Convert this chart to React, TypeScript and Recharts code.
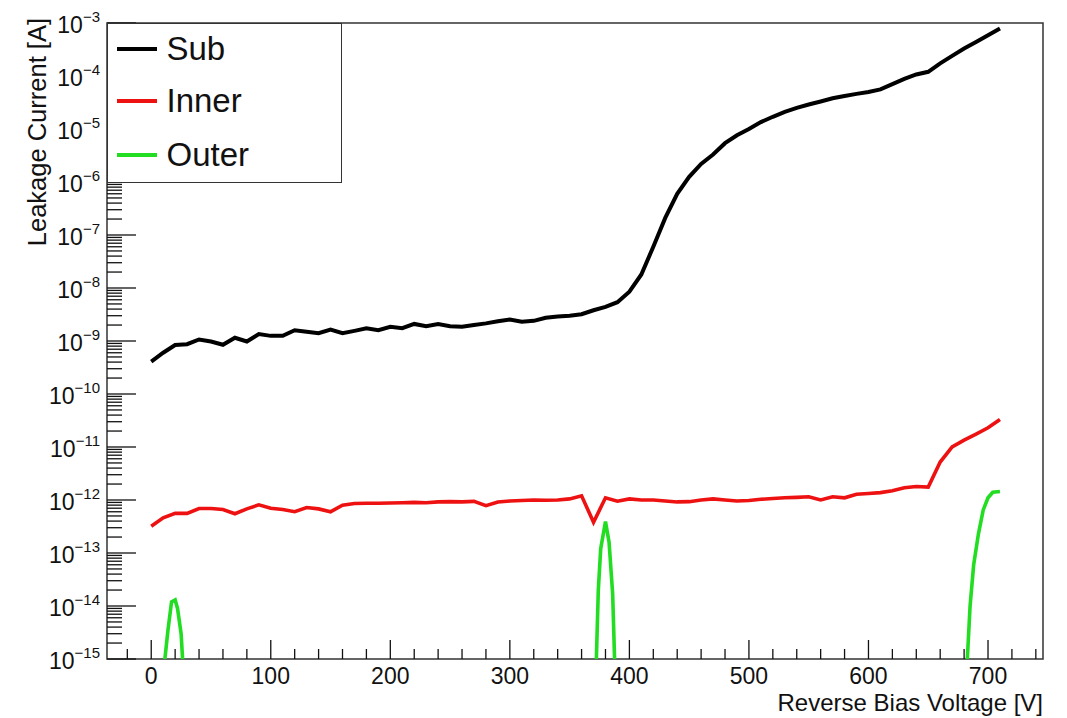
import React from 'react';
import { LineChart, Line, XAxis, YAxis, ReferenceArea, Legend } from 'recharts';

const voltages = [
  0, 10, 20, 30, 40, 50, 60, 70, 80, 90,
  100, 110, 120, 130, 140, 150, 160, 170, 180, 190,
  200, 210, 220, 230, 240, 250, 260, 270, 280, 290,
  300, 310, 320, 330, 340, 350, 360, 370, 380, 390,
  400, 410, 420, 430, 440, 450, 460, 470, 480, 490,
  500, 510, 520, 530, 540, 550, 560, 570, 580, 590,
  600, 610, 620, 630, 640, 650, 660, 670, 680, 690,
  700, 710,
];

const subCurrent = [
  4.1e-10, 6.0e-10, 8.4e-10, 8.7e-10, 1.07e-9, 9.8e-10, 8.5e-10, 1.15e-9, 9.8e-10, 1.35e-9,
  1.25e-9, 1.25e-9, 1.6e-9, 1.5e-9, 1.4e-9, 1.65e-9, 1.4e-9, 1.55e-9, 1.73e-9, 1.6e-9,
  1.85e-9, 1.75e-9, 2.1e-9, 1.9e-9, 2.1e-9, 1.9e-9, 1.85e-9, 2.0e-9, 2.15e-9, 2.35e-9,
  2.55e-9, 2.3e-9, 2.4e-9, 2.75e-9, 2.9e-9, 3.0e-9, 3.2e-9, 3.8e-9, 4.4e-9, 5.4e-9,
  8.5e-9, 1.8e-8, 6.0e-8, 2.1e-7, 6.0e-7, 1.25e-6, 2.2e-6, 3.3e-6, 5.4e-6, 7.6e-6,
  1.0e-5, 1.35e-5, 1.7e-5, 2.1e-5, 2.5e-5, 2.9e-5, 3.3e-5, 3.8e-5, 4.2e-5, 4.6e-5,
  5.0e-5, 5.6e-5, 7.0e-5, 8.8e-5, 1.07e-4, 1.2e-4, 1.73e-4, 2.4e-4, 3.3e-4, 4.4e-4,
  5.9e-4, 7.9e-4,
];

const innerCurrent = [
  3.2e-13, 4.6e-13, 5.6e-13, 5.6e-13, 6.9e-13, 6.9e-13, 6.6e-13, 5.5e-13, 6.8e-13, 8.1e-13,
  7.0e-13, 6.6e-13, 6.0e-13, 7.2e-13, 6.8e-13, 6.0e-13, 8.0e-13, 8.6e-13, 8.7e-13, 8.7e-13,
  8.8e-13, 8.9e-13, 9.0e-13, 8.9e-13, 9.2e-13, 9.3e-13, 9.2e-13, 9.4e-13, 7.8e-13, 9.2e-13,
  9.6e-13, 9.8e-13, 1.0e-12, 9.9e-13, 1.0e-12, 1.05e-12, 1.2e-12, 3.8e-13, 1.1e-12, 9.5e-13,
  1.05e-12, 1.0e-12, 1.0e-12, 9.6e-13, 9.2e-13, 9.3e-13, 1.0e-12, 1.05e-12, 1.0e-12, 9.6e-13,
  9.8e-13, 1.03e-12, 1.07e-12, 1.1e-12, 1.12e-12, 1.15e-12, 1.0e-12, 1.15e-12, 1.1e-12, 1.28e-12,
  1.33e-12, 1.38e-12, 1.5e-12, 1.7e-12, 1.8e-12, 1.75e-12, 5.2e-12, 1.0e-11, 1.35e-11, 1.75e-11,
  2.3e-11, 3.3e-11,
];

const outerVoltages = [
  10, 14, 17, 20, 22, 25, 27,
  372, 374, 376, 380, 383, 386, 388,
  682, 685, 688, 692, 696, 700, 704, 710,
];

const outerCurrent = [
  5e-16, 3.5e-15, 1.2e-14, 1.3e-14, 9e-15, 3e-15, 5e-16,
  5e-16, 2e-14, 1.2e-13, 3.9e-13, 1.6e-13, 1.7e-14, 5e-16,
  5e-16, 1e-14, 6e-14, 2.3e-13, 6.5e-13, 1.1e-12, 1.4e-12, 1.45e-12,
];

const seriesNames = ['Sub', 'Inner', 'Outer'];
const seriesColors = ['#000000', '#ee1111', '#22dd22'];

const xTicks = [
  -20, 0, 20, 40, 60, 80, 100, 120, 140, 160, 180, 200, 220, 240, 260, 280, 300,
  320, 340, 360, 380, 400, 420, 440, 460, 480, 500, 520, 540, 560, 580, 600,
  620, 640, 660, 680, 700, 720, 740,
];
const yExponents = [-15, -14, -13, -12, -11, -10, -9, -8, -7, -6, -5, -4, -3];
const yMinorMultipliers = [1, 2, 3, 4, 5, 6, 7, 8, 9];

const xTitle = 'Reverse Bias Voltage [V]';
const yTitle = 'Leakage Current [A]';

const mainData = voltages.map((v, i) => ({ v, sub: subCurrent[i], inner: innerCurrent[i] }));
const outerData = outerVoltages.map((v, i) => ({ v, outer: outerCurrent[i] }));
const yTicks = yExponents.flatMap((e, i) =>
  i === yExponents.length - 1 ? [Math.pow(10, e)] : yMinorMultipliers.map((m) => m * Math.pow(10, e))
);

const FONT = '"Liberation Sans", Arial, Helvetica, sans-serif';

const XTick = (props: any) => {
  const { x, y, payload } = props;
  const v = payload.value;
  const major = v % 100 === 0;
  return (
    <g>
      <line x1={x} y1={y} x2={x} y2={y - (major ? 19 : 10)} stroke="#111" strokeWidth={1.3} />
      {major && (
        <text x={x} y={y + 25} textAnchor="middle" fontSize={23} fontFamily={FONT} fill="#111">
          {v}
        </text>
      )}
    </g>
  );
};

const YTick = (props: any) => {
  const { x, y, payload } = props;
  const v = payload.value;
  const lg = Math.log10(v);
  const e = Math.round(lg);
  const major = Math.abs(lg - e) < 1e-6;
  return (
    <g>
      <line x1={x} y1={y} x2={x + (major ? 29 : 15)} y2={y} stroke="#111" strokeWidth={1.3} />
      {major && (
        <text x={x - 7} y={y + 10} textAnchor="end" fontSize={23} fontFamily={FONT} fill="#111">
          10
          <tspan dy={-11} fontSize={15}>
            {'\u2212' + Math.abs(e)}
          </tspan>
        </text>
      )}
    </g>
  );
};

const XTitle = (props: any) => {
  const vb = props.viewBox || {};
  return (
    <text x={vb.x + vb.width} y={vb.y + 52} textAnchor="end" fontSize={24} fontFamily={FONT} fill="#111">
      {xTitle}
    </text>
  );
};

const YTitle = (props: any) => {
  const vb = props.viewBox || {};
  const tx = vb.x + 38;
  const ty = vb.y - 5;
  return (
    <text
      x={tx}
      y={ty}
      transform={`rotate(-90, ${tx}, ${ty})`}
      textAnchor="end"
      fontSize={25.5}
      fontFamily={FONT}
      fill="#111"
    >
      {yTitle}
    </text>
  );
};

const renderLegend = (props: any) => {
  const payload = [...(props.payload || [])].sort(
    (a: any, b: any) => seriesNames.indexOf(a.value) - seriesNames.indexOf(b.value)
  );
  const rowCenters = [26, 78, 132];
  return (
    <div
      style={{
        position: 'relative',
        boxSizing: 'border-box',
        width: 235,
        height: 160,
        border: '1.5px solid #333',
        background: '#fff',
        fontFamily: FONT,
      }}
    >
      {payload.map((item: any, i: number) => (
        <div
          key={item.value}
          style={{
            position: 'absolute',
            left: 8.5,
            top: rowCenters[i] - 1.5 - 20,
            height: 40,
            display: 'flex',
            alignItems: 'center',
          }}
        >
          <span style={{ display: 'inline-block', width: 40, height: 4, background: item.color }} />
          <span style={{ marginLeft: 10, fontSize: 33, color: '#111', lineHeight: '40px' }}>{item.value}</span>
        </div>
      ))}
    </div>
  );
};

export default function App() {
  return (
    <LineChart width={1051} height={708} margin={{ top: 15, right: 16, bottom: 0, left: 0 }}>
      <XAxis
        dataKey="v"
        type="number"
        domain={[-37, 746]}
        ticks={xTicks}
        interval={0}
        tick={<XTick />}
        tickSize={0}
        tickMargin={0}
        tickLine={false}
        axisLine={false}
        height={57}
        allowDataOverflow
        label={<XTitle />}
      />
      <YAxis
        type="number"
        scale="log"
        domain={[1e-15, 1e-3]}
        ticks={yTicks}
        interval={0}
        tick={<YTick />}
        tickSize={0}
        tickMargin={0}
        tickLine={false}
        axisLine={false}
        width={99}
        allowDataOverflow
        label={<YTitle />}
      />
      <ReferenceArea x1={-37} x2={746} y1={1e-15} y2={1e-3} fill="none" stroke="#333" strokeWidth={1.5} />
      <Line
        data={mainData}
        dataKey="sub"
        name={seriesNames[0]}
        stroke={seriesColors[0]}
        strokeWidth={4}
        dot={false}
        isAnimationActive={false}
      />
      <Line
        data={mainData}
        dataKey="inner"
        name={seriesNames[1]}
        stroke={seriesColors[1]}
        strokeWidth={3.6}
        dot={false}
        isAnimationActive={false}
      />
      <Line
        data={outerData}
        dataKey="outer"
        name={seriesNames[2]}
        stroke={seriesColors[2]}
        strokeWidth={3.6}
        dot={false}
        isAnimationActive={false}
      />
      <Legend
        layout="horizontal"
        verticalAlign="middle"
        align="center"
        content={renderLegend}
        wrapperStyle={{ left: 99, top: 15, width: 235, height: 160 }}
      />
    </LineChart>
  );
}
